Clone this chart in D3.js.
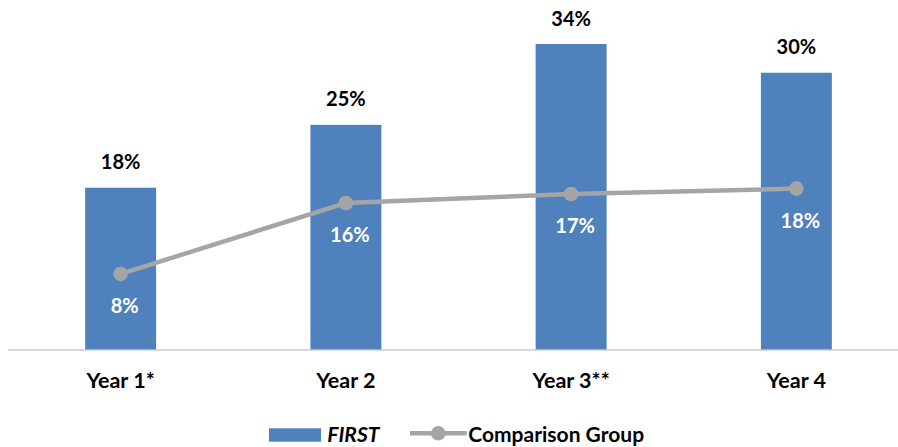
<!DOCTYPE html>
<html><head><meta charset="utf-8">
<script src="https://cdn.jsdelivr.net/npm/d3@7"></script>
<style>body{margin:0;background:#fff}svg{display:block}text{font-family:Lato,"Open Sans",sans-serif;font-weight:bold}</style>
</head><body><svg id="c" width="898" height="447"></svg>
<script>
const categories = ["Year 1*", "Year 2", "Year 3**", "Year 4"];
const firstValues = [18, 25, 34, 30.8];
const firstLabels = ["18%", "25%", "34%", "30%"];
const comparisonValues = [8.4, 16.3, 17.3, 17.9];
const comparisonLabels = ["8%", "16%", "17%", "18%"];
const seriesNames = ["FIRST", "Comparison Group"];

const svg = d3.select("#c");
const baseY = 349.4;
const x = d3.scaleBand().domain(categories).range([8, 909]).paddingInner(0.685).paddingOuter(0.3425);
const y = d3.scaleLinear().domain([0, 34]).range([baseY, 44]);
const blue = "#4f81bd", grey = "#a5a5a5";

// axis line
svg.append("line").attr("x1", 8).attr("x2", 898).attr("y1", baseY + 0.5).attr("y2", baseY + 0.5)
  .attr("stroke", "#d9d9d9").attr("stroke-width", 2);

// bars
svg.selectAll("rect.bar").data(firstValues).join("rect").attr("class", "bar")
  .attr("x", (d, i) => x(categories[i])).attr("width", x.bandwidth())
  .attr("y", d => y(d)).attr("height", d => baseY - y(d)).attr("fill", blue);

svg.selectAll("text.bl").data(firstValues).join("text").attr("class", "bl")
  .attr("x", (d, i) => x(categories[i]) + x.bandwidth() / 2).attr("y", d => y(d) - 18.4)
  .attr("text-anchor", "middle").attr("font-size", 20).attr("fill", "#000")
  .text((d, i) => firstLabels[i]);

// line
const cx = (d, i) => x(categories[i]) + x.bandwidth() / 2;
svg.append("path").datum(comparisonValues)
  .attr("d", d3.line().x(cx).y(d => y(d)))
  .attr("fill", "none").attr("stroke", grey).attr("stroke-width", 4.5);
svg.selectAll("circle.pt").data(comparisonValues).join("circle").attr("class", "pt")
  .attr("cx", cx).attr("cy", d => y(d)).attr("r", 7.3).attr("fill", grey);
svg.selectAll("text.ll").data(comparisonValues).join("text").attr("class", "ll")
  .attr("x", (d, i) => cx(d, i) + 4).attr("y", d => y(d) + 39)
  .attr("text-anchor", "middle").attr("font-size", 20).attr("fill", "#fff")
  .text((d, i) => comparisonLabels[i]);

// category labels
svg.selectAll("text.cat").data(categories).join("text").attr("class", "cat")
  .attr("x", d => x(d) + x.bandwidth() / 2).attr("y", 388.3)
  .attr("text-anchor", "middle").attr("font-size", 21.5).attr("fill", "#000").text(d => d);

// legend
const lg = svg.append("g");
lg.append("rect").attr("x", 269).attr("y", 428.3).attr("width", 52).attr("height", 13.4).attr("fill", blue);
lg.append("text").attr("x", 327.3).attr("y", 441.7).attr("font-size", 21).attr("font-style", "italic").text(seriesNames[0]);
lg.append("line").attr("x1", 410).attr("x2", 466.7).attr("y1", 433.3).attr("y2", 433.3).attr("stroke", grey).attr("stroke-width", 4.5);
lg.append("circle").attr("cx", 438.3).attr("cy", 433.3).attr("r", 7.3).attr("fill", grey);
lg.append("text").attr("x", 468.3).attr("y", 441.7).attr("font-size", 21).text(seriesNames[1]);
</script></body></html>
